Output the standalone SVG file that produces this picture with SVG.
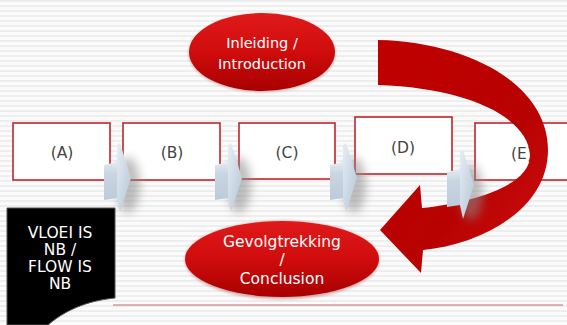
<svg xmlns="http://www.w3.org/2000/svg" width="567" height="325" viewBox="0 0 567 325">
<defs>
<pattern id="stripes" width="567" height="5" patternUnits="userSpaceOnUse">
<rect width="567" height="5" fill="#fbfbfb"/>
<rect y="0" width="567" height="2" fill="#eeeeee"/>
</pattern>
<linearGradient id="redEll" x1="0" y1="0" x2="0" y2="1">
<stop offset="0" stop-color="#e01a1a"/>
<stop offset="0.5" stop-color="#d00c0c"/>
<stop offset="1" stop-color="#a80000"/>
</linearGradient>
<linearGradient id="redArrow" x1="0" y1="0" x2="1" y2="1">
<stop offset="0" stop-color="#c00000"/>
<stop offset="0.6" stop-color="#b80202"/>
<stop offset="1" stop-color="#d01010"/>
</linearGradient>
<linearGradient id="chev" x1="0" y1="0" x2="1" y2="1">
<stop offset="0" stop-color="#e6edf4"/>
<stop offset="1" stop-color="#b3c5d6"/>
</linearGradient>
<linearGradient id="chevF" x1="0" y1="0" x2="0" y2="1">
<stop offset="0" stop-color="#e4ebf2"/>
<stop offset="0.3" stop-color="#c9d6e2"/>
<stop offset="1" stop-color="#bccbda"/>
</linearGradient>
<filter id="blur" x="-50%" y="-50%" width="200%" height="200%">
<feGaussianBlur stdDeviation="5"/>
</filter>
<filter id="soft" x="-20%" y="-20%" width="140%" height="140%">
<feGaussianBlur stdDeviation="1.5"/>
</filter>
<g id="chevShape">
<path d="M13,2 L16,0 L27,35 L16,69 L13,55 Z" fill="url(#chev)"/>
<path d="M0,22 L13,19 L13,55 L0,57 Z" fill="url(#chevF)"/>
</g>
</defs>
<style>
.box{fill:#ffffff;stroke:#c0252a;stroke-width:1.6}
.lbl{font-family:"DejaVu Sans","Liberation Sans",sans-serif;font-size:15.5px;fill:#444;text-anchor:middle}
.wt{font-family:"DejaVu Sans","Liberation Sans",sans-serif;font-size:14.5px;fill:#ffffff;text-anchor:middle}
.wn{font-family:"DejaVu Sans","Liberation Sans",sans-serif;font-size:15.5px;fill:#ffffff;text-anchor:middle}
.shadow{fill:#8a8a8a;opacity:0.55;filter:url(#blur)}
</style>
<rect width="567" height="325" fill="url(#stripes)"/>
<line x1="113" y1="305" x2="563" y2="305" stroke="#c46a6a" stroke-width="1"/>

<g id="boxA"><rect class="box" x="13" y="123" width="97" height="57"/><text class="lbl" x="62" y="158">(A)</text></g>
<g id="boxB"><rect class="box" x="123" y="123" width="97" height="57"/><text class="lbl" x="172" y="158">(B)</text></g>
<g id="boxC"><rect class="box" x="239" y="123" width="96" height="56"/><text class="lbl" x="287" y="158">(C)</text></g>
<g id="boxD"><rect class="box" x="355" y="117" width="97" height="57"/><text class="lbl" x="403" y="153">(D)</text></g>
<g id="boxE"><rect class="box" x="475" y="123" width="100" height="57"/><text class="lbl" x="522" y="159">(E)</text></g>

<g id="connectors">
<g transform="translate(104,143)"><ellipse class="shadow" cx="24" cy="42" rx="12" ry="28"/><use href="#chevShape"/></g>
<g transform="translate(215,143)"><ellipse class="shadow" cx="24" cy="42" rx="12" ry="28"/><use href="#chevShape"/></g>
<g transform="translate(330,143)"><ellipse class="shadow" cx="24" cy="42" rx="12" ry="28"/><use href="#chevShape"/></g>
<g id="bigArrow">
<path d="M378,40 C470,42 548,85 548,150 C548,210 480,245 423,250 L421,273 L380,230 L420,185 L422,208 C470,203 531,186 530,155 C528,118 470,88 378,85 Z" fill="url(#redArrow)"/>
</g>
<g transform="translate(447,150)"><ellipse class="shadow" cx="24" cy="42" rx="12" ry="28"/><use href="#chevShape"/></g>
</g>

<g id="intro">
<ellipse cx="262" cy="53" rx="73" ry="39" fill="#8a0000" opacity="0.35" filter="url(#soft)"/>
<ellipse cx="262" cy="52" rx="73" ry="39" fill="url(#redEll)"/>
<text class="wt" x="262" y="48">Inleiding /</text>
<text class="wt" x="262" y="69">Introduction</text>
</g>

<g id="conclusion">
<ellipse cx="282" cy="260" rx="97" ry="39" fill="#8a0000" opacity="0.35" filter="url(#soft)"/>
<ellipse cx="282" cy="259" rx="97" ry="38" fill="url(#redEll)"/>
<text class="wn" x="282" y="247">Gevolgtrekking</text>
<text class="wn" x="282" y="265">/</text>
<text class="wn" x="282" y="284">Conclusion</text>
</g>

<g id="note">
<path d="M7,208 L115,208 L115,298 C95,300 70,306 48,325 L7,325 Z" fill="#000000" stroke="#555" stroke-width="1"/>
<text class="wn" x="60" y="238">VLOEI IS</text>
<text class="wn" x="60" y="255">NB /</text>
<text class="wn" x="60" y="272">FLOW IS</text>
<text class="wn" x="60" y="289">NB</text>
</g>
</svg>
